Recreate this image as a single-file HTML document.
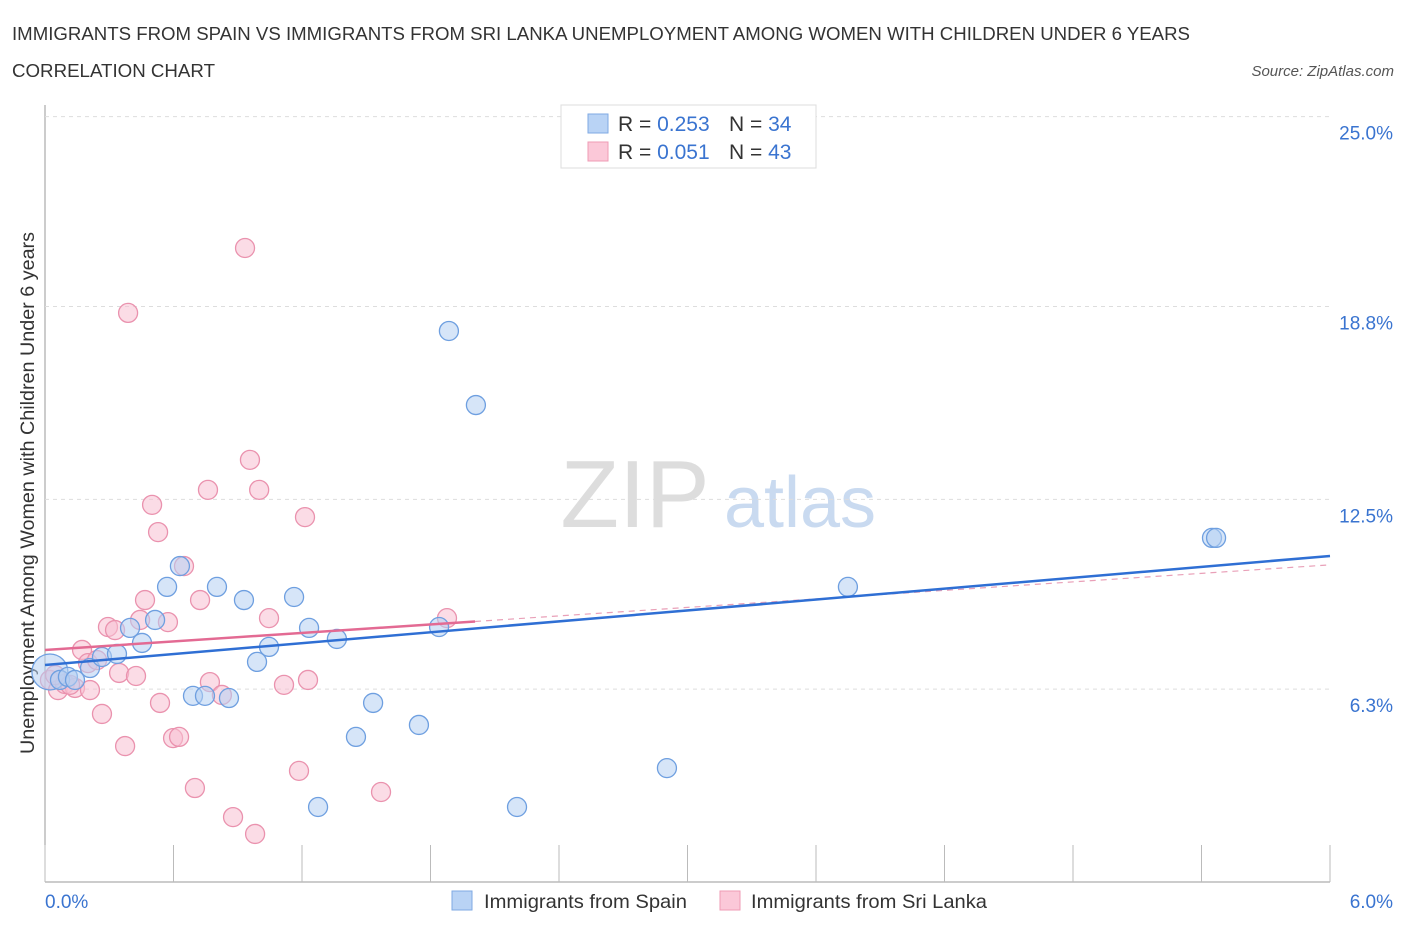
<!DOCTYPE html>
<html><head><meta charset="utf-8"><style>
body{margin:0;background:#fff;font-family:"Liberation Sans",sans-serif;}
svg text{font-family:"Liberation Sans",sans-serif;}
</style></head><body>
<svg id="chart" width="1406" height="930" xmlns="http://www.w3.org/2000/svg">
<text x="12" y="40" font-size="18" fill="#333" textLength="1178" lengthAdjust="spacingAndGlyphs">IMMIGRANTS FROM SPAIN VS IMMIGRANTS FROM SRI LANKA UNEMPLOYMENT AMONG WOMEN WITH CHILDREN UNDER 6 YEARS</text>
<text x="12" y="77" font-size="18" fill="#333" textLength="203" lengthAdjust="spacingAndGlyphs">CORRELATION CHART</text>
<text x="1394" y="76" font-size="15" fill="#555" font-style="italic" text-anchor="end">Source: ZipAtlas.com</text>
<text x="635" y="527" font-size="96" fill="#ddd" font-family="Liberation Serif" text-anchor="middle">ZIP</text>
<text x="800" y="527" font-size="72" fill="#c9daf0" text-anchor="middle">atlas</text>
<text transform="translate(34,493) rotate(-90)" font-size="19" fill="#333" text-anchor="middle" textLength="522" lengthAdjust="spacingAndGlyphs">Unemployment Among Women with Children Under 6 years</text>
<g id="grid"></g><g id="marks"></g><g id="lines"></g>
<g>
<rect x="561" y="105" width="255" height="63" fill="#fff" stroke="#ddd"/>
<rect x="588" y="114" width="20" height="19" fill="#b9d3f5" stroke="#7fa9e3"/>
<rect x="588" y="142" width="20" height="19" fill="#fbc8d8" stroke="#ef9bb5"/>
<text x="618" y="131" font-size="21" fill="#333">R = <tspan fill="#3a74d0">0.253</tspan></text>
<text x="729" y="131" font-size="21" fill="#333">N = <tspan fill="#3a74d0">34</tspan></text>
<text x="618" y="159" font-size="21" fill="#333">R = <tspan fill="#3a74d0">0.051</tspan></text>
<text x="729" y="159" font-size="21" fill="#333">N = <tspan fill="#3a74d0">43</tspan></text>
</g>
<text x="45" y="908" font-size="19" fill="#3a74d0">0.0%</text>
<text x="1393" y="908" font-size="19" fill="#3a74d0" text-anchor="end">6.0%</text>
<rect x="452" y="891" width="20" height="19" fill="#b9d3f5" stroke="#7fa9e3"/>
<text x="484" y="908" font-size="19.5" fill="#333" textLength="203" lengthAdjust="spacingAndGlyphs">Immigrants from Spain</text>
<rect x="720" y="891" width="20" height="19" fill="#fbc8d8" stroke="#ef9bb5"/>
<text x="751" y="908" font-size="19.5" fill="#333" textLength="236" lengthAdjust="spacingAndGlyphs">Immigrants from Sri Lanka</text>
</svg>
<script>
const yTicks=[25.0,18.8,12.5,6.3];
const yTickLabels=["25.0%","18.8%","12.5%","6.3%"];
const xTicks=[0,0.6,1.2,1.8,2.4,3.0,3.6,4.2,4.8,5.4,6.0];
const spainX=[.023,.070,.107,.140,.210,.266,.336,.397,.453,.514,.570,.630,.691,.747,.803,.859,.929,.990,1.046,1.163,1.233,1.275,1.363,1.452,1.532,1.746,1.840,1.886,2.012,2.204,2.904,3.749,5.449,5.468];
const spainY=[6.86,6.60,6.70,6.60,6.99,7.35,7.45,8.30,7.81,8.56,9.64,10.32,6.08,6.08,9.64,6.01,9.21,7.19,7.68,9.31,8.30,2.45,7.94,4.74,5.85,5.13,8.33,18.0,15.58,2.45,3.72,9.64,11.24,11.24];
const lankaX=[.023,.061,.093,.140,.173,.210,.201,.243,.266,.294,.327,.346,.374,.388,.425,.444,.467,.500,.528,.537,.574,.598,.626,.649,.700,.724,.761,.770,.826,.878,.934,.957,.981,1.000,1.046,1.116,1.186,1.214,1.228,1.569,1.877,.047,.117];
const lankaY=[6.60,6.27,6.47,6.34,7.58,6.27,7.15,7.25,5.49,8.33,8.23,6.83,4.44,18.59,6.73,8.56,9.21,12.32,11.43,5.85,8.49,4.70,4.74,10.32,3.07,9.21,12.81,6.53,6.11,2.12,20.71,13.79,1.57,12.81,8.62,6.44,3.63,11.92,6.60,2.94,8.62,6.76,6.44];
const spainTrend=[7.09,10.65];
const lankaTrend=[7.58,10.36];
const lankaSolidEnd=2.008;
const NS="http://www.w3.org/2000/svg";
const X=v=>45+v*(1285/6);
const Y=v=>882-v*30.613;
function mk(tag,attrs,parent){const e=document.createElementNS(NS,tag);for(const k in attrs)e.setAttribute(k,attrs[k]);parent.appendChild(e);return e;}
const grid=document.getElementById('grid'),marks=document.getElementById('marks'),lines=document.getElementById('lines');
let ax=mk('line',{x1:45,y1:105,x2:45,y2:882,stroke:'#999'},grid);


let bx=mk('line',{x1:45,y1:882,x2:1330,y2:882,stroke:'#999'},grid);


yTicks.forEach((t,i)=>{
 const g=mk('line',{x1:45,y1:Y(t),x2:1330,y2:Y(t),stroke:'#ddd','stroke-dasharray':'4,4'},grid);
 
 
 const tx=mk('text',{x:1393,y:Y(t)+23,'font-size':19,fill:'#3a74d0','text-anchor':'end'},grid);
 tx.textContent=yTickLabels[i];
 
 
});
xTicks.forEach(t=>{
 const l=mk('line',{x1:X(t),y1:845,x2:X(t),y2:882,stroke:'#bbb'},grid);
 
 
});
function dots(xs,ys,fill,stroke,name){xs.forEach((x,i)=>{
 const c=mk('circle',{cx:X(x),cy:Y(ys[i]),r:(name==='spain-point'&&i===0)?18:9.5,fill:fill,'fill-opacity':0.55,stroke:stroke,'stroke-width':1.3},marks);
 
 
});}
dots(lankaX,lankaY,'#f8bfd1','#ea92ae','srilanka-point');
dots(spainX,spainY,'#b4cff3','#6e9fe0','spain-point');
const at=(tr,x)=>tr[0]+(tr[1]-tr[0])*x/6;
let l1=mk('line',{x1:X(0),y1:Y(at(lankaTrend,0)),x2:X(lankaSolidEnd),y2:Y(at(lankaTrend,lankaSolidEnd)),stroke:'#e36a93','stroke-width':2.5},lines);


let l2=mk('line',{x1:X(lankaSolidEnd),y1:Y(at(lankaTrend,lankaSolidEnd)),x2:X(6),y2:Y(at(lankaTrend,6)),stroke:'#e9a0b8','stroke-width':1.2,'stroke-dasharray':'6,5'},lines);


let l3=mk('line',{x1:X(0),y1:Y(spainTrend[0]),x2:X(6),y2:Y(spainTrend[1]),stroke:'#2f6fd4','stroke-width':2.5},lines);


</script>
</body></html>
